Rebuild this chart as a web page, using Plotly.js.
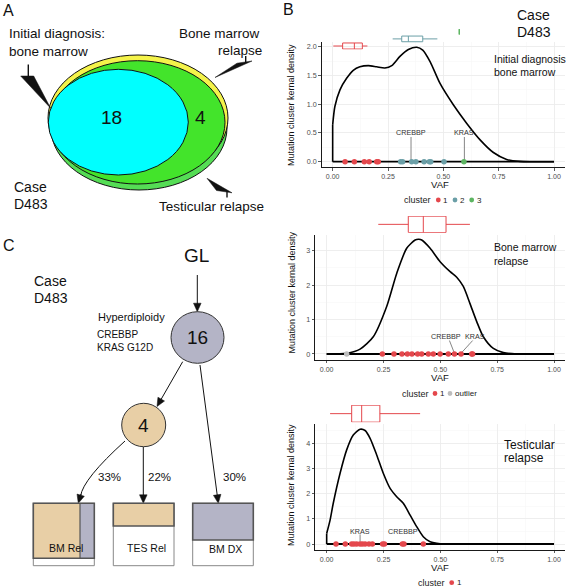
<!DOCTYPE html>
<html><head><meta charset="utf-8">
<script src="https://cdn.plot.ly/plotly-3.0.1.min.js"></script>
<style>html,body{margin:0;padding:0;background:#fff;}#chart{width:567px;height:587px;}</style>
</head><body><div id="chart"></div>
<script>
// ================= DATA =================
const vennLabels = ['Initial diagnosis:', 'bone marrow', 'Bone marrow', 'relapse', 'Testicular relapse'];
const vennCounts = [18, 4];
const caseLabel = ['Case', 'D483'];
const treeRoot = 'GL';
const treeCounts = [16, 4];
const treeDrivers = ['Hyperdiploidy', 'CREBBP', 'KRAS G12D'];
const treePct = ['33%', '22%', '30%'];
const sampleNames = ['BM Rel', 'TES Rel', 'BM DX'];

const xTickVals = [0, 0.25, 0.5, 0.75, 1];
const xTickText = ['0.00', '0.25', '0.50', '0.75', '1.00'];
const dxYTicks = [0, 0.5, 1, 1.5, 2];
const dxYText = ['0.0', '0.5', '1.0', '1.5', '2.0'];
const relYTicks = [0, 1, 2, 3];
const tesYTicks = [0, 1, 2, 3, 4];

// Panel 1: initial diagnosis bone marrow
const dxEdgeDens = [0, 0.64];
const dxCurveVaf  = [0, 0.01, 0.033, 0.063, 0.093, 0.123, 0.161, 0.199, 0.236, 0.267, 0.304, 0.342, 0.38, 0.407, 0.44, 0.485, 0.545, 0.605, 0.666, 0.726, 0.786, 0.846, 0.9, 1.0];
const dxCurveDens = [0.64, 0.96, 1.25, 1.45, 1.59, 1.65, 1.67, 1.65, 1.63, 1.67, 1.83, 1.95, 1.99, 1.94, 1.74, 1.36, 0.99, 0.67, 0.38, 0.16, 0.04, 0.005, 0, 0];
const dxC1 = [0.056, 0.098, 0.143, 0.165, 0.199, 0.206];
const dxC2 = [0.307, 0.316, 0.357, 0.376, 0.413, 0.437, 0.443, 0.503];
const dxC3 = [0.593];
const dxC1y = [0, 0, 0, 0, 0, 0];
const dxC2y = [0, 0, 0, 0, 0, 0, 0, 0];
const dxC3y = [0];
// boxes: [lowerfence, q1, median, q3, upperfence]
const dxBox1 = [0.003, 0.045, 0.098, 0.134, 0.157];
const dxBox2 = [0.271, 0.312, 0.342, 0.407, 0.473];
const dxBox3 = [0.572, 0.572, 0.572, 0.572, 0.572];
const dxGenes = ['CREBBP', 'KRAS'];
const dxGeneVaf = [0.354, 0.595];

// Panel 2: bone marrow relapse
const relCurveVaf  = [0, 0.088, 0.147, 0.205, 0.264, 0.308, 0.352, 0.389, 0.405, 0.418, 0.455, 0.499, 0.543, 0.572, 0.601, 0.63, 0.66, 0.689, 0.733, 0.777, 0.836, 1.0];
const relCurveDens = [0, 0.02, 0.14, 0.5, 1.38, 2.34, 3.07, 3.31, 3.33, 3.31, 3.07, 2.68, 2.39, 2.23, 1.96, 1.47, 0.94, 0.5, 0.16, 0.04, 0, 0];
const relC1 = [0.245, 0.296, 0.331, 0.355, 0.375, 0.4, 0.418, 0.447, 0.469, 0.499, 0.535, 0.562, 0.591, 0.638, 0.642];
const relC1y = [0, 0, 0, 0, 0, 0, 0, 0, 0, 0, 0, 0, 0, 0, 0];
const relOut = [0.088];
const relOuty = [0];
const relBox = [0.227, 0.359, 0.425, 0.525, 0.630];
const relGenes = ['CREBBP', 'KRAS'];
const relGeneLabelVaf = [0.525, 0.654];
const relGeneVaf = [0.562, 0.591];

// Panel 3: testicular relapse
const tesEdgeDens = [0, 0.42];
const tesCurveVaf  = [0, 0.015, 0.029, 0.059, 0.088, 0.117, 0.147, 0.169, 0.191, 0.22, 0.249, 0.279, 0.308, 0.337, 0.367, 0.396, 0.425, 0.455, 0.499, 0.557, 1.0];
const tesCurveDens = [0.42, 0.95, 1.62, 2.81, 3.74, 4.33, 4.56, 4.51, 4.2, 3.54, 2.81, 2.21, 1.88, 1.62, 1.15, 0.69, 0.29, 0.09, 0.01, 0, 0];
const tesC1 = [0.041, 0.082, 0.11, 0.12, 0.132, 0.147, 0.157, 0.169, 0.186, 0.201, 0.246, 0.254, 0.333, 0.34, 0.425];
const tesC1y = [0, 0, 0, 0, 0, 0, 0, 0, 0, 0, 0, 0, 0, 0, 0];
const tesBox = [0.015, 0.11, 0.154, 0.234, 0.411];
const tesGenes = ['KRAS', 'CREBBP'];
const tesGeneVaf = [0.147, 0.337];

const panelTitles = [['Initial diagnosis', 'bone marrow'], ['Bone marrow', 'relapse'], ['Testicular', 'relapse']];
const legendItems = [[['1', 'c1'], ['2', 'c2'], ['3', 'c3']], [['1', 'c1'], ['outlier', 'out']], [['1', 'c1']]];

// ================= STYLE / HELPERS =================
const W = 567, H = 587;
const FONT = 'Liberation Sans, Arial, Helvetica, sans-serif';
const COL = {c1: '#E4474C', c2: '#6B9FA7', c3: '#5DB562', out: '#BDBDBD'};
const X = p => p / W, Y = p => 1 - p / H;
const shapes = [], ann = [], traces = [];

function txt(text, x, y, size, anchor, extra) {
  ann.push(Object.assign({xref: 'paper', yref: 'paper', x: X(x), y: Y(y), text: text, showarrow: false,
    xanchor: anchor || 'left', yanchor: 'middle', borderpad: 0,
    font: {family: FONT, size: size, color: '#111'}}, extra || {}));
}
function ell(x0, y0, x1, y1, fill, lc, lw) {
  shapes.push({type: 'circle', xref: 'paper', yref: 'paper', x0: X(x0), x1: X(x1), y0: Y(y1), y1: Y(y0),
    fillcolor: fill, line: {color: lc || '#111', width: lw === undefined ? 1 : lw}});
}
function rect(x0, y0, x1, y1, fill, lc, lw) {
  shapes.push({type: 'rect', xref: 'paper', yref: 'paper', x0: X(x0), x1: X(x1), y0: Y(y1), y1: Y(y0),
    fillcolor: fill, line: {color: lc || 'rgba(0,0,0,0)', width: lw || 0}});
}
function seg(x0, y0, x1, y1, c, w) {
  shapes.push({type: 'line', xref: 'paper', yref: 'paper', x0: X(x0), y0: Y(y0), x1: X(x1), y1: Y(y1),
    line: {color: c || '#111', width: w || 1}});
}
function poly(pts, fill) {
  const d = 'M ' + pts.map(p => X(p[0]) + ' ' + Y(p[1])).join(' L ') + ' Z';
  shapes.push({type: 'path', xref: 'paper', yref: 'paper', path: d, fillcolor: fill, line: {color: fill, width: 0.5}});
}
function arrow(x0, y0, x1, y1) {
  const dx = x1 - x0, dy = y1 - y0, L = Math.hypot(dx, dy), ux = dx / L, uy = dy / L;
  const hl = 8.5, hw = 3.8, bx = x1 - ux * hl, by = y1 - uy * hl;
  seg(x0, y0, bx + ux, by + uy, '#111', 1);
  poly([[x1, y1], [bx - uy * hw, by + ux * hw], [bx + uy * hw, by - ux * hw]], '#111');
}

// ================= PANEL A (Venn) =================
txt('A', 2, 10, 16);
ell(51, 66, 227, 190, '#55DD55');
ell(48, 55, 228, 181, '#F4F34A');
ell(50, 60.7, 225, 184, '#43E42B');
ell(48.3, 69.3, 188.3, 175, '#00FFFF');
txt(String(vennCounts[0]), 111.7, 117.5, 19, 'center');
txt(String(vennCounts[1]), 200, 118, 19, 'center');
txt(vennLabels[0], 8, 33, 13.5);
txt(vennLabels[1], 8, 51.5, 13.5);
txt(vennLabels[2], 178.3, 33, 13.5);
txt(vennLabels[3], 216.7, 51, 13.5);
txt(vennLabels[4], 158.3, 206.7, 13.5);
txt(caseLabel[0], 13, 187, 14);
txt(caseLabel[1], 13, 204, 14);
// pointers
seg(28.3, 64.5, 28.3, 76.5, '#111', 1.4);
poly([[20.7, 76], [33.7, 76], [50.7, 108.3]], '#111');
seg(245.7, 56, 245.7, 62.5, '#111', 1.4);
poly([[215, 77.5], [237, 63.2], [252, 61]], '#111');
seg(227, 192, 227, 197.5, '#111', 1.4);
poly([[207, 178.3], [216.5, 190.5], [232, 192.8]], '#111');

// ================= PANEL C (tree) =================
txt('C', 2, 245, 16);
txt(treeRoot, 196, 255, 19, 'center');
txt(caseLabel[0], 33, 280.7, 14);
txt(caseLabel[1], 33, 298.3, 14);
txt(treeDrivers[0], 96.7, 316.7, 11);
txt(treeDrivers[1], 96, 334.3, 10);
txt(treeDrivers[2], 96, 347.7, 10);
arrow(197.3, 275, 197.3, 311.7);
ell(171, 311.7, 224, 363.3, '#B4B4C6', '#333', 1);
txt(String(treeCounts[0]), 197.5, 337.5, 19, 'center');
arrow(182.7, 361.7, 157, 406.5);
ell(121.7, 403.3, 165.7, 446.7, '#E8CFA6', '#333', 1);
txt(String(treeCounts[1]), 143.7, 425.5, 19, 'center');
arrow(200, 365, 218.3, 503.3);
arrow(143.3, 447, 143.3, 503.3);
shapes.push({type: 'path', xref: 'paper', yref: 'paper',
  path: 'M ' + X(125) + ' ' + Y(441) + ' Q ' + X(83) + ' ' + Y(479) + ' ' + X(80.6) + ' ' + Y(496),
  line: {color: '#111', width: 1}});
arrow(81, 494, 78.3, 503.3);
txt(treePct[0], 96.7, 476.7, 11.5);
txt(treePct[1], 146.7, 476.7, 11.5);
txt(treePct[2], 221.7, 477.3, 11.5);
// sample boxes
rect(33.3, 503.3, 94.3, 565.7, '#fff', '#888', 1);
rect(33.3, 503.3, 80, 558.3, '#E8CFA6');
rect(80, 503.3, 94.3, 558.3, '#B4B4C6');
seg(80, 503.3, 80, 558.3, '#555', 1.2);
rect(33.3, 503.3, 94.3, 558.3, 'rgba(0,0,0,0)', '#555', 1.6);
rect(113.3, 503.3, 174, 565.7, '#fff', '#888', 1);
rect(113.3, 503.3, 174, 526, '#E8CFA6', '#555', 1.6);
rect(192.7, 503.3, 253.3, 565.7, '#fff', '#888', 1);
rect(192.7, 503.3, 253.3, 540, '#B4B4C6', '#555', 1.6);
txt(sampleNames[0], 65.5, 547.7, 10.5, 'center');
txt(sampleNames[1], 146.7, 547.7, 10.5, 'center');
txt(sampleNames[2], 225.5, 549, 10.5, 'center');

// ================= PANEL B (densities) =================
txt('B', 282, 9, 16);
txt(caseLabel[0], 516, 15, 14);
txt(caseLabel[1], 516, 32, 14);

function xAx(l, r, anchor) {
  return {domain: [X(l), X(r)], anchor: anchor, range: [-0.05, 1.05], tickmode: 'array', tickvals: xTickVals, ticktext: xTickText,
    showline: true, linecolor: '#1a1a1a', linewidth: 1, ticks: 'outside', ticklen: 2.5, tickwidth: 0.8, tickcolor: '#333',
    tickfont: {family: FONT, size: 7, color: '#4d4d4d'}, showgrid: true, gridcolor: '#ebebeb', gridwidth: 0.8,
    minor: {tickmode: 'linear', tick0: 0, dtick: 0.125, showgrid: true, gridcolor: '#f5f5f5', gridwidth: 0.5},
    zeroline: false, fixedrange: true};
}
function yAx(b, t, anchor, range, vals, text, minorD) {
  return {domain: [Y(b), Y(t)], anchor: anchor, range: range, tickmode: 'array', tickvals: vals, ticktext: text,
    showline: true, linecolor: '#1a1a1a', linewidth: 1, ticks: 'outside', ticklen: 2.5, tickwidth: 0.8, tickcolor: '#333',
    tickfont: {family: FONT, size: 7.2, color: '#4d4d4d'}, showgrid: true, gridcolor: '#ebebeb', gridwidth: 0.8,
    minor: {tickmode: 'linear', tick0: 0, dtick: minorD, showgrid: true, gridcolor: '#f5f5f5', gridwidth: 0.5},
    zeroline: false, fixedrange: true};
}
function hid(l, r, anchor, range, isX) {
  return {domain: isX ? [X(l), X(r)] : [Y(l), Y(r)], anchor: anchor, range: range, visible: false, fixedrange: true};
}

const P = [
  {xa: 'x', ya: 'y', bx: 'x4', by: 'y2', ty: 105, vy: 184.5},
  {xa: 'x2', ya: 'y3', bx: 'x5', by: 'y4', ty: 292.5, vy: 378},
  {xa: 'x3', ya: 'y5', bx: 'x6', by: 'y6', ty: 485, vy: 567}
];

function line(p, xs, ys, w, c, shape) {
  traces.push({type: 'scatter', mode: 'lines', x: xs, y: ys, xaxis: p.xa, yaxis: p.ya,
    line: {color: c || '#000', width: w, shape: shape || 'linear', smoothing: 0.7}, hoverinfo: 'skip', cliponaxis: false});
}
function pts(p, xs, ys, c) {
  traces.push({type: 'scatter', mode: 'markers', x: xs, y: ys, xaxis: p.xa, yaxis: p.ya,
    marker: {color: c, size: 5.5, line: {width: 0}}, hoverinfo: 'skip', cliponaxis: false});
}
function box(p, pos, v, c, w) {
  traces.push({type: 'box', orientation: 'h', xaxis: p.bx, yaxis: p.by, y: [pos],
    lowerfence: [v[0]], q1: [v[1]], median: [v[2]], q3: [v[3]], upperfence: [v[4]],
    width: w, whiskerwidth: 0, boxpoints: false, fillcolor: 'rgba(255,255,255,0)',
    line: {color: c, width: 1}, hoverinfo: 'skip'});
}
function geneLabel(p, text, x, y) {
  ann.push({xref: p.xa, yref: p.ya, x: x, y: y, text: text, showarrow: false, xanchor: 'center', yanchor: 'middle',
    font: {family: FONT, size: 7.2, color: '#333'}});
}

// panel 1
line(P[0], [0, 1], [0, 0], 1.8);
line(P[0], [0, 0], dxEdgeDens, 1.6);
line(P[0], dxCurveVaf, dxCurveDens, 1.6, '#000', 'spline');
line(P[0], [dxGeneVaf[0], dxGeneVaf[0]], [0.43, 0], 0.8, '#666');
line(P[0], [dxGeneVaf[1], dxGeneVaf[1]], [0.43, 0], 0.8, '#666');
pts(P[0], dxC1, dxC1y, COL.c1);
pts(P[0], dxC2, dxC2y, COL.c2);
pts(P[0], dxC3, dxC3y, COL.c3);
geneLabel(P[0], dxGenes[0], dxGeneVaf[0], 0.5);
geneLabel(P[0], dxGenes[1], dxGeneVaf[1], 0.5);
box(P[0], 1, dxBox1, COL.c1, 0.85);
box(P[0], 2, dxBox2, COL.c2, 0.8);
box(P[0], 3, dxBox3, COL.c3, 0.75);

// panel 2
line(P[1], [0, 1], [0, 0], 1.8);
line(P[1], relCurveVaf, relCurveDens, 1.6, '#000', 'spline');
line(P[1], [0.54, relGeneVaf[0]], [0.39, 0.02], 0.8, '#666');
line(P[1], [0.642, relGeneVaf[1]], [0.39, 0.02], 0.8, '#666');
pts(P[1], relOut, relOuty, COL.out);
pts(P[1], relC1, relC1y, COL.c1);
geneLabel(P[1], relGenes[0], relGeneLabelVaf[0], 0.5);
geneLabel(P[1], relGenes[1], relGeneLabelVaf[1], 0.5);
box(P[1], 1, relBox, COL.c1, 0.98);

// panel 3
line(P[2], [0, 1], [0, 0], 1.8);
line(P[2], [0, 0], tesEdgeDens, 1.6);
line(P[2], tesCurveVaf, tesCurveDens, 1.6, '#000', 'spline');
line(P[2], [tesGeneVaf[0], tesGeneVaf[0]], [0.38, 0.09], 0.8, '#666');
pts(P[2], tesC1, tesC1y, COL.c1);
geneLabel(P[2], tesGenes[0], tesGeneVaf[0], 0.5);
geneLabel(P[2], tesGenes[1], tesGeneVaf[1], 0.5);
box(P[2], 1, tesBox, COL.c1, 0.98);

// axis titles, panel titles, legends
P.forEach((p, i) => {
  txt('Mutation cluster kernal density', 291, p.ty, 9, 'center', {textangle: -90});
  txt('VAF', 440, p.vy, 9.5, 'center');
});
txt(panelTitles[0][0], 492.7, 59.3, 10.5);
txt(panelTitles[0][1], 492.7, 71.7, 10.5);
txt(panelTitles[1][0], 492.7, 247.3, 10.5);
txt(panelTitles[1][1], 492.7, 260.7, 10.5);
txt(panelTitles[2][0], 503.3, 445, 12);
txt(panelTitles[2][1], 503.3, 458.3, 12);

const legPos = [
  {y: 200, end: 432, dots: [438.3, 455, 471.7]},
  {y: 393.5, end: 430.3, dots: [435, 450]},
  {y: 582.7, end: 445.5, dots: [451.7]}
];
legendItems.forEach((items, i) => {
  const L = legPos[i];
  txt('cluster', L.end, L.y, 9, 'right', {font: {family: FONT, size: 9, color: '#222'}});
  items.forEach((it, j) => {
    const cx = L.dots[j];
    ell(cx - 2.4, L.y - 2.4, cx + 2.4, L.y + 2.4, COL[it[1]], COL[it[1]], 0);
    txt(it[0], cx + 4, L.y, 8, 'left', {font: {family: FONT, size: 8, color: '#222'}});
  });
});

const layout = {
  width: W, height: H, margin: {l: 0, r: 0, t: 0, b: 0, pad: 0},
  paper_bgcolor: '#fff', plot_bgcolor: 'rgba(0,0,0,0)', showlegend: false,
  xaxis: xAx(321.6, 565.1, 'y'),
  yaxis: yAx(167.45, 41.5, 'x', [-0.1, 2.09], dxYTicks, dxYText, 0.25),
  xaxis4: hid(321.6, 565.1, 'y2', [-0.05, 1.05], true),
  yaxis2: hid(49.55, 28.25, 'x4', [0.5, 3.5], false),
  xaxis2: xAx(315.3, 565.4, 'y3'),
  yaxis3: yAx(359.7, 234.5, 'x2', [-0.166, 3.47], relYTicks, relYTicks.map(String), 0.5),
  xaxis5: hid(315.3, 565.4, 'y4', [-0.05, 1.05], true),
  yaxis4: hid(232.7, 216, 'x5', [0.5, 1.5], false),
  xaxis3: xAx(315.3, 565.4, 'y5'),
  yaxis5: yAx(549.8, 423.7, 'x3', [-0.23, 4.78], tesYTicks, tesYTicks.map(String), 0.5),
  xaxis6: hid(315.3, 565.4, 'y6', [-0.05, 1.05], true),
  yaxis6: hid(422.3, 405, 'x6', [0.5, 1.5], false),
  shapes: shapes, annotations: ann
};
Plotly.newPlot('chart', traces, layout, {staticPlot: true, displayModeBar: false});
</script></body></html>
